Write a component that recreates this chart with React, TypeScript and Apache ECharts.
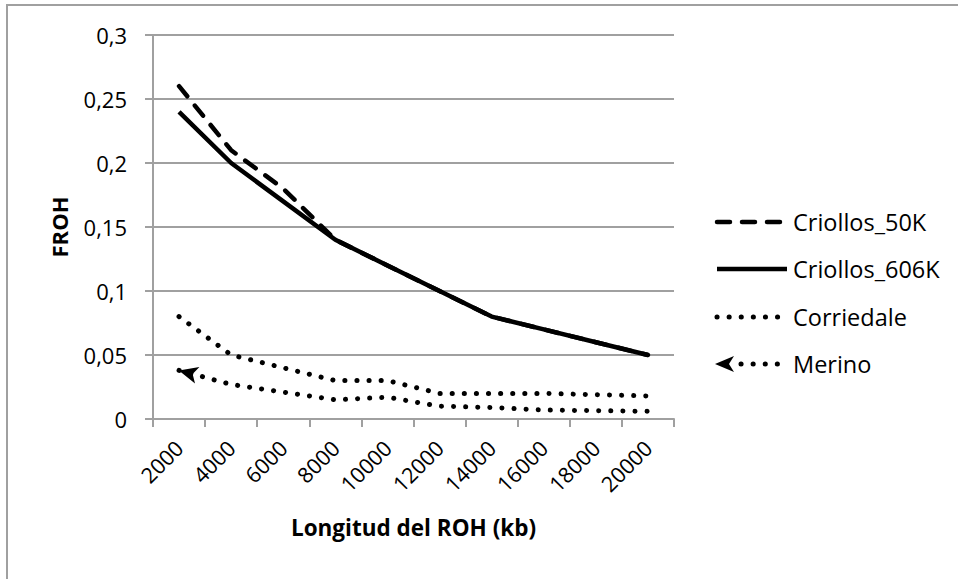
import React, { useEffect, useRef } from "react";
import * as echarts from "echarts";

const categories = ["2000", "4000", "6000", "8000", "10000", "12000", "14000", "16000", "18000", "20000"];
const criollos50K = [0.26, 0.21, 0.18, 0.14, 0.12, 0.1, 0.08, 0.07, 0.06, 0.05];
const criollos606K = [0.24, 0.2, 0.17, 0.14, 0.12, 0.1, 0.08, 0.07, 0.06, 0.05];
const corriedale = [0.08, 0.05, 0.04, 0.03, 0.03, 0.02, 0.02, 0.02, 0.019, 0.018];
const merino = [0.038, 0.027, 0.021, 0.015, 0.017, 0.01, 0.009, 0.007, 0.0065, 0.006];
const seriesNames = ["Criollos_50K", "Criollos_606K", "Corriedale", "Merino"];
const yTicks = [0, 0.05, 0.1, 0.15, 0.2, 0.25, 0.3];

const FONT = "'Open Sans', 'Noto Sans', sans-serif";
const GRAY = "#a0a0a0";
const ARROW = "path://M0,10 L20,0 L15,10 L20,20 Z"; // points left, tip at (0,10)

export default function App() {
  const ref = useRef<HTMLDivElement>(null);
  useEffect(() => {
    if (!ref.current) return;
    const chart = echarts.init(ref.current, undefined, { renderer: "svg" });
    const dot = { type: [0.1, 12] as any, cap: "round" as const, width: 5, color: "#000" };
    const legendY = [222, 269, 317, 364];
    const legendX0 = 715;
    const legendX1 = 787;
    const legendStyles: any[] = [
      { lineDash: [13, 12], lineCap: "round", lineWidth: 4.5 },
      { lineWidth: 4.5, lineCap: "butt" },
      { lineDash: [0.1, 12], lineCap: "round", lineWidth: 5 },
      { lineDash: [0.1, 12], lineCap: "round", lineWidth: 5 },
    ];
    const legendGraphics: any[] = [];
    seriesNames.forEach((name, i) => {
      const isMerino = i === 3;
      legendGraphics.push({
        type: "line",
        shape: { x1: isMerino ? 741 : legendX0 + 2, y1: legendY[i], x2: i === 1 ? legendX1 : 780, y2: legendY[i] },
        style: { stroke: "#000", ...legendStyles[i] },
        silent: true,
      });
      if (isMerino) {
        legendGraphics.push({
          type: "polygon",
          shape: { points: [[715, legendY[i]], [734, legendY[i] - 8], [729, legendY[i]], [734, legendY[i] + 8]] },
          style: { fill: "#000" },
          silent: true,
        });
      }
      legendGraphics.push({
        type: "text",
        x: 793,
        y: legendY[i],
        style: { text: name, font: `23.5px ${FONT}`, fill: "#000", textVerticalAlign: "middle", verticalAlign: "middle" },
        silent: true,
      });
    });

    chart.setOption({
      animation: false,
      backgroundColor: "#fff",
      grid: { left: 153, top: 35, right: 284, bottom: 160 },
      xAxis: {
        type: "category",
        data: categories,
        boundaryGap: true,
        axisLine: { show: true, lineStyle: { color: GRAY, width: 2 } },
        axisTick: { show: true, alignWithLabel: false, length: 8, lineStyle: { color: GRAY, width: 2 } },
        axisLabel: { interval: 0, rotate: 45, margin: 25, fontSize: 21.5, color: "#000", fontFamily: FONT },
        splitLine: { show: false },
        name: "Longitud del ROH (kb)",
        nameLocation: "middle",
        nameGap: 97,
        nameMoveOverlap: false,
        nameTextStyle: { fontSize: 22.5, fontWeight: "bold", color: "#000", fontFamily: FONT },
      } as any,
      yAxis: {
        type: "value",
        min: 0,
        max: 0.3,
        interval: 0.05,
        axisLine: { show: true, lineStyle: { color: GRAY, width: 2 } },
        axisTick: { show: true, length: 8, lineStyle: { color: GRAY, width: 2 } },
        axisLabel: {
          margin: 26,
          fontSize: 22,
          color: "#000",
          fontFamily: FONT,
          formatter: (v: number) => {
            const t = yTicks.find((k) => Math.abs(k - v) < 1e-9);
            return String(t !== undefined ? t : v).replace(".", ",");
          },
        },
        splitLine: { show: true, lineStyle: { color: GRAY, width: 2 } },
        name: "FROH",
        nameLocation: "middle",
        nameRotate: 90,
        nameGap: 83,
        nameMoveOverlap: false,
        nameTextStyle: { fontSize: 22, fontWeight: "bold", color: "#000", fontFamily: FONT },
      } as any,
      series: [
        {
          name: seriesNames[0],
          type: "line",
          data: criollos50K,
          symbol: "none",
          lineStyle: { color: "#000", width: 4.5, type: [13, 12] as any, cap: "round", join: "round" },
        },
        {
          name: seriesNames[1],
          type: "line",
          data: criollos606K,
          symbol: "none",
          lineStyle: { color: "#000", width: 4.5, type: "solid", join: "round" },
        },
        {
          name: seriesNames[2],
          type: "line",
          data: corriedale,
          symbol: "none",
          lineStyle: dot,
        },
        {
          name: seriesNames[3],
          type: "line",
          data: merino.map((v, i) =>
            i === 0
              ? { value: v, symbol: ARROW, symbolSize: [19, 17], symbolRotate: -15, symbolOffset: [9, 2.5], itemStyle: { color: "#000" } }
              : v
          ),
          symbol: "none",
          showSymbol: true,
          showAllSymbol: true,
          lineStyle: dot,
          itemStyle: { color: "#000" },
        },
      ],
      graphic: [
        {
          type: "rect",
          shape: { x: 7, y: 5, width: 1200, height: 1200 },
          style: { fill: "none", stroke: GRAY, lineWidth: 2 },
          silent: true,
          z: 100,
        },
        ...legendGraphics,
      ],
    });
    return () => chart.dispose();
  }, []);
  return <div ref={ref} style={{ position: "absolute", left: 0, top: 0, width: 958, height: 579 }} />;
}
